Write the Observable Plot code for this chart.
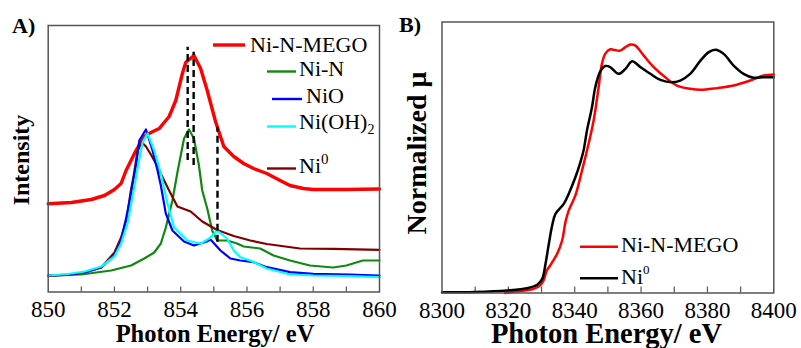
<!DOCTYPE html>
<html><head><meta charset="utf-8">
<script src="https://cdn.jsdelivr.net/npm/d3@7"></script>
<script src="https://cdn.jsdelivr.net/npm/@observablehq/plot@0.6"></script>
<style>
body{margin:0;background:#fff;}
#wrap{position:relative;width:801px;height:348px;overflow:hidden;font-family:"Liberation Serif","Times New Roman",serif;}
#wrap > svg{position:absolute;top:0;}
</style></head><body><div id="wrap"></div>
<script>
// ---------- Panel A: XANES L-edge (Intensity, a.u.) ----------
const xTicksA = [850, 852, 854, 856, 858, 860];
const xMinorA = [851, 852, 853, 854, 855, 856, 857, 858, 859];

const eMego = [850.0,850.7,851.3,851.7,852.0,852.2,852.35,852.5,852.65,852.9,853.1,853.35,853.65,853.85,854.05,854.15,854.4,854.6,854.8,855.05,855.3,855.6,855.9,856.2,856.6,857.0,857.3,857.7,858.0,859.0,860.0];
const iMego = [88.2,89.5,92.5,96.5,102.5,108.5,121.5,131.5,141.5,155.5,159.5,163.5,175.5,191.5,218.5,229.5,236.5,223.5,201.5,170.5,145.5,135.5,128.5,123.5,118.5,111.5,106.5,103.5,102.5,102.5,103];

const eNiN = [850.0,851.0,851.9,852.5,852.9,853.2,853.4,853.55,853.75,853.9,854.0,854.1,854.25,854.4,854.55,854.65,854.8,854.95,855.1,855.4,855.7,855.9,856.4,856.8,857.3,857.9,858.6,859.0,859.5,860.0];
const iNiN = [16.5,17.5,21.5,26.5,33.5,39.5,48.5,64.5,91.5,119.5,136.5,153.5,162.5,153.5,126.5,101.5,83.5,61.5,51.5,51.5,48.5,45.5,43.5,36.5,31.5,26.5,24.5,26.5,31.5,31.5];

const eNiO = [850.0,850.6,851.1,851.6,852.0,852.2,852.35,852.5,852.65,852.75,852.95,853.15,853.3,853.4,853.55,853.75,854.1,854.4,854.75,854.9,855.2,855.5,855.8,856.2,856.6,857.3,858.0,859.1,860.0];
const iNiO = [16.5,17.5,19.5,24.5,36.5,51.5,73.5,98.5,126.5,151.5,162.5,141.5,121.5,106.5,78.5,61.5,50.5,46.5,50,52.5,41.5,33.5,31.5,29.8,24.8,19.8,18.2,17.5,16.5];

const eNiOH = [850.0,850.6,851.1,851.6,852.0,852.2,852.4,852.55,852.7,852.85,853.0,853.2,853.4,853.6,853.8,854.2,854.6,854.9,855.1,855.4,855.6,855.8,856.1,856.6,857.3,858.0,859.0,860.0];
const iNiOH = [16.5,18,20.5,25.5,35.5,48.5,69.5,96.5,124.5,149.5,158.5,141.5,118.5,88.5,64.5,51.5,48.2,54.5,61.5,53.5,41.5,34.8,31.5,23.5,17.5,16.5,16,14.8];

const eNi0 = [850.0,850.6,851.1,851.6,852.0,852.2,852.38,852.48,852.58,852.7,852.83,852.95,853.1,853.25,853.5,853.65,853.9,854.3,854.65,855.1,855.6,856.1,856.6,857.6,858.6,860.0];
const iNi0 = [16,17,19.5,24.5,39.5,54.5,74.5,98.5,116.5,141.5,149.5,145.5,137.5,128.5,111.5,101.5,85.5,80.5,70.5,62,56,51.5,48,43.5,43.2,42.2];

const dashE = [854.21, 854.39, 855.11];
const dashLow = [131.5, 126.5, 49.8];
const dashHigh = [244.8, 239.8, 164.8];

// ---------- Panel B: Ni K-edge XANES (Normalized mu) ----------
const xTicksB = [8300, 8320, 8340, 8360, 8380, 8400];
const xMinorB = [8310, 8320, 8330, 8340, 8350, 8360, 8370, 8380, 8390];

const eBMego = [8319,8323,8327.6,8329.6,8330.6,8331.6,8332.6,8334.7,8336.2,8337.2,8338.2,8340.2,8342.2,8343.7,8345.7,8347.2,8348.2,8349.2,8350.7,8351.7,8353.7,8355.3,8356.8,8358.3,8360.8,8363.8,8367.3,8370.8,8374.8,8377.9,8382.9,8387.9,8392.9,8396.9,8400];
const muBMego = [0.0,0.008,0.019,0.035,0.058,0.104,0.127,0.181,0.242,0.327,0.381,0.45,0.565,0.657,0.796,0.949,1.057,1.103,1.124,1.122,1.118,1.134,1.146,1.141,1.095,1.042,0.995,0.957,0.942,0.937,0.945,0.957,0.98,1.003,1.008];

const eBNi0 = [8300,8310,8319.6,8325.6,8328.7,8330.2,8331.2,8332.2,8333.2,8334.2,8336.7,8338.2,8340.2,8341.7,8342.7,8343.7,8345.2,8346.2,8347.7,8349.2,8350.7,8353.2,8355.3,8357.3,8359.8,8362.8,8365.8,8369.3,8371.8,8374.8,8377.9,8380.4,8382.4,8384.9,8387.9,8390.9,8393.9,8396.9,8400];
const muBNi0 = [0.003,0.005,0.012,0.022,0.038,0.065,0.135,0.227,0.311,0.365,0.411,0.458,0.534,0.603,0.66,0.75,0.857,0.949,1.022,1.047,1.042,1.011,1.034,1.069,1.042,1.011,0.983,0.972,0.98,1.011,1.072,1.111,1.122,1.103,1.049,1.011,0.993,0.995,0.995];

const seriesA = [
  {name: "Ni-N-MEGO", e: eMego, v: iMego, color: "#ff0000", w: 3.4},
  {name: "Ni-N", e: eNiN, v: iNiN, color: "#118811", w: 2.2},
  {name: "NiO", e: eNiO, v: iNiO, color: "#0000ff", w: 2.2},
  {name: "Ni(OH)2", e: eNiOH, v: iNiOH, color: "#00ffff", w: 2.2},
  {name: "Ni0", e: eNi0, v: iNi0, color: "#800000", w: 2.2}
];
const seriesB = [
  {name: "Ni-N-MEGO", e: eBMego, v: muBMego, color: "#ff0000", w: 2.5},
  {name: "Ni0", e: eBNi0, v: muBNi0, color: "#000000", w: 2.5}
];

const rows = s => s.e.map((x, i) => ({x, y: s.v[i]}));
const frameColor = "#555";
const font = '"Liberation Serif","Times New Roman",serif';
const drawOrderA = [0, 1, 4, 2, 3];

const plotA = Plot.plot({
  width: 400, height: 348,
  marginLeft: 47.7, marginRight: 21, marginTop: 25, marginBottom: 56.5,
  style: {fontFamily: font, fontSize: "23px", color: "#000", background: "transparent", overflow: "visible"},
  x: {domain: [850, 860]},
  y: {domain: [0, 266.5], axis: null},
  marks: [
    Plot.ruleX(xMinorA, {x: d => d, insetTop: 261.5, stroke: frameColor, strokeWidth: 1.2}),
    ...drawOrderA.map(k => Plot.line(rows(seriesA[k]), {x: "x", y: "y", stroke: seriesA[k].color, strokeWidth: seriesA[k].w, curve: "linear"})),
    Plot.ruleX(dashE.map((x, i) => ({x, y1: dashLow[i], y2: dashHigh[i]})), {x: "x", y1: "y1", y2: "y2", stroke: "#000", strokeWidth: 2.4, strokeDasharray: "7,4"}),
    Plot.axisX({ticks: xTicksA, tickSize: 0, tickPadding: 9, label: null, fontSize: 23, fontFamily: font, tickFormat: d3.format("d")}),
    Plot.frame({stroke: frameColor, strokeWidth: 1.5})
  ]
});

const plotB = Plot.plot({
  width: 401, height: 348,
  marginLeft: 41.5, marginRight: 27.7, marginTop: 21.5, marginBottom: 55.5,
  style: {fontFamily: font, fontSize: "23px", color: "#000", background: "transparent", overflow: "visible"},
  x: {domain: [8300, 8400]},
  y: {domain: [0, 1.25], axis: null},
  marks: [
    Plot.ruleX(xMinorB, {x: d => d, insetTop: 265, stroke: frameColor, strokeWidth: 1.2}),
    ...seriesB.map(s => Plot.line(rows(s), {x: "x", y: "y", stroke: s.color, strokeWidth: s.w, curve: "catmull-rom"})),
    Plot.axisX({ticks: xTicksB, tickSize: 0, tickPadding: 9, label: null, fontSize: 23, fontFamily: font, tickFormat: d3.format("d")}),
    Plot.frame({stroke: frameColor, strokeWidth: 1.5})
  ]
});

const wrap = document.getElementById("wrap");
plotA.style.left = "0px";
plotB.style.left = "400px";
wrap.appendChild(plotA);
wrap.appendChild(plotB);

// ---------- Overlay: panel letters, axis titles, legends ----------
const ov = d3.select(wrap).append("svg")
  .attr("width", 801).attr("height", 348)
  .style("left", "0px").attr("font-family", font);

function txt(x, y, s, size, weight, anchor) {
  return ov.append("text").attr("x", x).attr("y", y).attr("font-size", size).attr("font-family", font)
    .attr("font-weight", weight || "normal").attr("text-anchor", anchor || "start").attr("fill", "#000").text(s);
}
txt(12, 32.5, "A)", 22, "bold");
txt(399, 32.3, "B)", 22, "bold");
txt(215, 341.5, "Photon Energy/ eV", 24.5, "bold", "middle");
txt(606.5, 343, "Photon Energy/ eV", 28.5, "bold", "middle");
txt(0, 0, "Intensity", 24, "bold", "middle").attr("transform", "translate(28.5,160) rotate(-90)");
txt(0, 0, "Normalized \u03bc", 28, "bold", "middle").attr("transform", "translate(426,153) rotate(-90)");

// legend A
const legA = [
  {k: 0, x1: 213, x2: 245, ly: 45, tx: 250, ty: 51.7},
  {k: 1, x1: 267, x2: 296, ly: 71.5, tx: 299, ty: 75.5},
  {k: 2, x1: 272, x2: 302, ly: 99, tx: 306, ty: 103},
  {k: 3, x1: 267, x2: 296, ly: 126.5, tx: 299, ty: 128.5},
  {k: 4, x1: 267, x2: 296, ly: 168.5, tx: 299, ty: 173}
];
legA.forEach(L => {
  const s = seriesA[L.k];
  ov.append("line").attr("x1", L.x1).attr("x2", L.x2).attr("y1", L.ly).attr("y2", L.ly)
    .attr("stroke", s.color).attr("stroke-width", L.k === 0 ? 3.4 : 2.4);
  const t = ov.append("text").attr("x", L.tx).attr("y", L.ty).attr("font-size", 22).attr("font-family", font).attr("fill", "#000");
  if (s.name === "Ni(OH)2") {
    t.append("tspan").text("Ni(OH)");
    t.append("tspan").attr("font-size", 14).attr("dy", 5).text("2");
  } else if (s.name === "Ni0") {
    t.append("tspan").text("Ni");
    t.append("tspan").attr("font-size", 15).attr("dy", -9).text("0");
  } else t.text(s.name);
});

// legend B
const legB = [
  {k: 0, x1: 580, x2: 618, ly: 246.7, tx: 621, ty: 252.3},
  {k: 1, x1: 580, x2: 618, ly: 278.3, tx: 621, ty: 284}
];
legB.forEach(L => {
  const s = seriesB[L.k];
  ov.append("line").attr("x1", L.x1).attr("x2", L.x2).attr("y1", L.ly).attr("y2", L.ly)
    .attr("stroke", s.color).attr("stroke-width", 2.5);
  const t = ov.append("text").attr("x", L.tx).attr("y", L.ty).attr("font-size", 22).attr("font-family", font).attr("fill", "#000");
  if (s.name === "Ni0") {
    t.append("tspan").text("Ni");
    t.append("tspan").attr("font-size", 13).attr("dy", -10).text("0");
  } else t.text(s.name);
});
</script></body></html>
